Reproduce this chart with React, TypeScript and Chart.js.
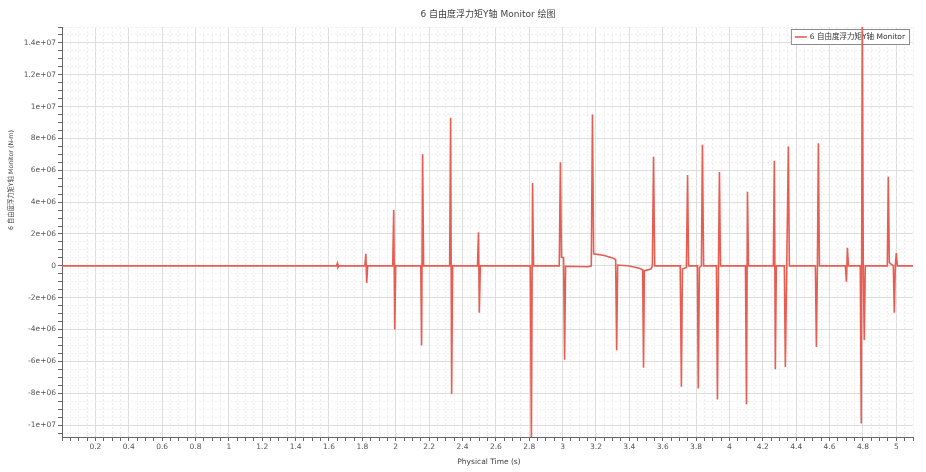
import { useEffect, useRef } from 'react';
import { Chart, registerables } from 'chart.js';

Chart.register(...registerables);

// Physical time (s)
const timeS = [
  0, 1.645, 1.65, 1.654, 1.66,
  1.815, 1.821, 1.826, 1.832,
  1.982, 1.988, 1.994, 2.0,
  2.15, 2.155, 2.161, 2.167,
  2.323, 2.329, 2.335, 2.341,
  2.49, 2.496, 2.501, 2.507,
  2.807, 2.813, 2.82, 2.826,
  2.98, 2.987, 2.993, 3.006, 3.012, 3.018, 3.15,
  3.172, 3.179, 3.186, 3.25, 3.3, 3.318, 3.324, 3.33, 3.4, 3.46,
  3.48, 3.485, 3.49, 3.53,
  3.538, 3.545, 3.552,
  3.705, 3.712, 3.718, 3.742, 3.749, 3.755,
  3.808, 3.813, 3.82, 3.832, 3.838, 3.845,
  3.922, 3.928, 3.934, 3.94, 3.946,
  4.096, 4.102, 4.108, 4.114,
  4.263, 4.269, 4.275, 4.281,
  4.329, 4.335, 4.343, 4.353, 4.359,
  4.515, 4.521, 4.527, 4.533, 4.539,
  4.695, 4.701, 4.707, 4.713,
  4.784, 4.79, 4.796, 4.802, 4.808, 4.814,
  4.946, 4.952, 4.958, 4.982, 4.988, 4.994, 5.0, 5.006,
  5.1,
];

// 6-DOF buoyancy moment about Y (N-m)
const momentNm = [
  0, 0, 1.5e5, -1.0e5, 0,
  0, 7.5e5, -1.07e6, 0,
  0, 3.5e6, -4.0e6, 0,
  0, -5.0e6, 7.0e6, 0,
  0, 9.3e6, -8.05e6, 0,
  0, 2.1e6, -2.95e6, 0,
  0, -1.1e7, 5.2e6, 0,
  0, 6.5e6, 5.5e5, 5.0e5, -5.9e6, -3e4, -6e4,
  0, 9.5e6, 7.5e5, 6.5e5, 5.0e5, 4.0e5, -5.3e6, 5e4, -1e4, -1.5e5,
  -2.5e5, -6.4e6, -3.0e5, -2.0e5,
  0, 6.85e6, 0,
  0, -7.6e6, -2.0e5, -1.0e5, 5.7e6, 0,
  0, -7.7e6, -1e5, 0, 7.6e6, 0,
  0, -8.4e6, -1e5, 5.9e6, 0,
  0, -8.7e6, 4.65e6, 0,
  0, 6.6e6, -6.5e6, 0,
  0, -6.35e6, -3e5, 7.5e6, 0,
  0, -5.1e6, -1e5, 7.7e6, 0,
  0, -1.0e6, 1.13e6, 0,
  0, -9.9e6, 1.6e7, 0, -4.65e6, 0,
  0, 5.6e6, 2e5, 0, -2.95e6, 0, 8.0e5, 0,
  0,
];

const xTickValues = [0.2, 0.4, 0.6, 0.8, 1, 1.2, 1.4, 1.6, 1.8, 2, 2.2, 2.4, 2.6, 2.8, 3, 3.2, 3.4, 3.6, 3.8, 4, 4.2, 4.4, 4.6, 4.8, 5];
const xTickLabels = ['0.2', '0.4', '0.6', '0.8', '1', '1.2', '1.4', '1.6', '1.8', '2', '2.2', '2.4', '2.6', '2.8', '3', '3.2', '3.4', '3.6', '3.8', '4', '4.2', '4.4', '4.6', '4.8', '5'];
const yTickValues = [-1e7, -8e6, -6e6, -4e6, -2e6, 0, 2e6, 4e6, 6e6, 8e6, 1e7, 1.2e7, 1.4e7];
const yTickLabels = ['-1e+07', '-8e+06', '-6e+06', '-4e+06', '-2e+06', '0', '2e+06', '4e+06', '6e+06', '8e+06', '1e+07', '1.2e+07', '1.4e+07'];

const chartTitle = '6 自由度浮力矩Y轴 Monitor 绘图';
const seriesName = '6 自由度浮力矩Y轴 Monitor';
const xTitle = 'Physical Time (s)';
const yTitle = '6 自由度浮力矩Y轴 Monitor (N-m)';

const X_MIN = 0, X_MAX = 5.1, X_MINOR = 0.05;
const Y_MIN = -1.075e7, Y_MAX = 1.5e7, Y_MINOR = 5e5;
const LINE_COLOR = '#e85c52';
const FONT = '"DejaVu Sans", "Noto Sans CJK SC", sans-serif';

function findMajor(values: number[], v: number, tol: number) {
  for (let i = 0; i < values.length; i++) if (Math.abs(values[i] - v) < tol) return i;
  return -1;
}

function minorTicks(min: number, max: number, step: number) {
  const out: { value: number }[] = [];
  const start = Math.ceil(min / step - 1e-9);
  const end = Math.floor(max / step + 1e-9);
  for (let i = start; i <= end; i++) out.push({ value: i * step });
  return out;
}

const overlayPlugin = {
  id: 'overlay',
  beforeDatasetsDraw(chart: any) {
    const ctx = chart.ctx as CanvasRenderingContext2D;
    ctx.save();
    ctx.font = `7.5px ${FONT}`;
    const tw = ctx.measureText(seriesName).width;
    const w = tw + 24;
    const x = 910 - w, y = 29, h = 16;
    ctx.fillStyle = '#ffffff';
    ctx.fillRect(x, y, w, h);
    ctx.strokeStyle = '#8a8a8a';
    ctx.lineWidth = 1;
    ctx.strokeRect(x + 0.5, y + 0.5, w - 1, h - 1);
    ctx.strokeStyle = LINE_COLOR;
    ctx.lineWidth = 1.6;
    ctx.beginPath();
    ctx.moveTo(x + 4, y + 8);
    ctx.lineTo(x + 16, y + 8);
    ctx.stroke();
    ctx.fillStyle = '#333';
    ctx.textBaseline = 'middle';
    ctx.textAlign = 'left';
    ctx.fillText(seriesName, x + 19, y + 8.5);
    ctx.restore();
  },
  afterDraw(chart: any) {
    const ctx = chart.ctx as CanvasRenderingContext2D;
    ctx.save();
    ctx.fillStyle = '#444';
    ctx.textAlign = 'center';
    ctx.textBaseline = 'middle';
    ctx.font = `9px ${FONT}`;
    ctx.fillText(chartTitle, 488, 15);
    ctx.font = `7.5px ${FONT}`;
    ctx.fillText(xTitle, 489, 462);
    ctx.translate(11, 180);
    ctx.rotate(-Math.PI / 2);
    ctx.font = `6.3px ${FONT}`;
    ctx.fillText(yTitle, 0, 0);
    ctx.restore();
  },
};

export default function App() {
  const ref = useRef<HTMLCanvasElement | null>(null);

  useEffect(() => {
    document.body.style.margin = '0';
    const canvas = ref.current;
    if (!canvas) return;
    const points = timeS.map((t, i) => ({ x: t, y: momentNm[i] }));
    const chart = new Chart(canvas, {
      type: 'line',
      data: {
        datasets: [
          {
            label: seriesName,
            data: points,
            borderColor: LINE_COLOR,
            backgroundColor: LINE_COLOR,
            borderWidth: 1.6,
            pointRadius: 0,
            tension: 0,
            fill: false,
          },
        ],
      },
      options: {
        animation: false,
        responsive: false,
        maintainAspectRatio: false,
        layout: { padding: { left: 0, top: 27, right: 13, bottom: 0 } },
        plugins: {
          legend: { display: false },
          title: { display: false },
          tooltip: { enabled: false },
        },
        scales: {
          x: {
            type: 'linear',
            min: X_MIN,
            max: X_MAX,
            afterBuildTicks: (scale: any) => {
              scale.ticks = minorTicks(X_MIN, X_MAX, X_MINOR);
            },
            afterFit: (scale: any) => {
              scale.height = 35;
            },
            ticks: {
              autoSkip: false,
              maxRotation: 0,
              minRotation: 0,
              padding: 2,
              color: '#555',
              font: { size: 7.5, family: FONT },
              callback: (v: any) => {
                const i = findMajor(xTickValues, Number(v), 1e-6);
                return i >= 0 ? xTickLabels[i] : '';
              },
            },
            grid: {
              color: (c: any) => (c.tick && findMajor(xTickValues, c.tick.value, 1e-6) >= 0 ? '#dedede' : '#efefef'),
              lineWidth: 1,
              tickColor: '#666',
              tickLength: 4,
            },
            border: {
              display: true,
              color: '#666',
              width: 1,
              dash: (c: any) => (c.tick && findMajor(xTickValues, c.tick.value, 1e-6) >= 0 ? [] : [2, 2]),
            },
          },
          y: {
            type: 'linear',
            min: Y_MIN,
            max: Y_MAX,
            afterBuildTicks: (scale: any) => {
              scale.ticks = minorTicks(Y_MIN, Y_MAX, Y_MINOR);
            },
            afterFit: (scale: any) => {
              scale.width = 62;
            },
            ticks: {
              autoSkip: false,
              padding: 2,
              color: '#555',
              font: { size: 7.5, family: FONT },
              callback: (v: any) => {
                const i = findMajor(yTickValues, Number(v), 1);
                return i >= 0 ? yTickLabels[i] : '';
              },
            },
            grid: {
              color: (c: any) => (c.tick && findMajor(yTickValues, c.tick.value, 1) >= 0 ? '#dedede' : '#efefef'),
              lineWidth: 1,
              tickColor: '#666',
              tickLength: 4,
            },
            border: {
              display: true,
              color: '#666',
              width: 1,
              dash: (c: any) => (c.tick && findMajor(yTickValues, c.tick.value, 1) >= 0 ? [] : [2, 2]),
            },
          },
        },
      } as any,
      plugins: [overlayPlugin],
    });
    return () => chart.destroy();
  }, []);

  return (
    <div style={{ width: 926, height: 472, background: '#fff' }}>
      <canvas ref={ref} width={926} height={472} style={{ display: 'block', width: 926, height: 472 }} />
    </div>
  );
}
